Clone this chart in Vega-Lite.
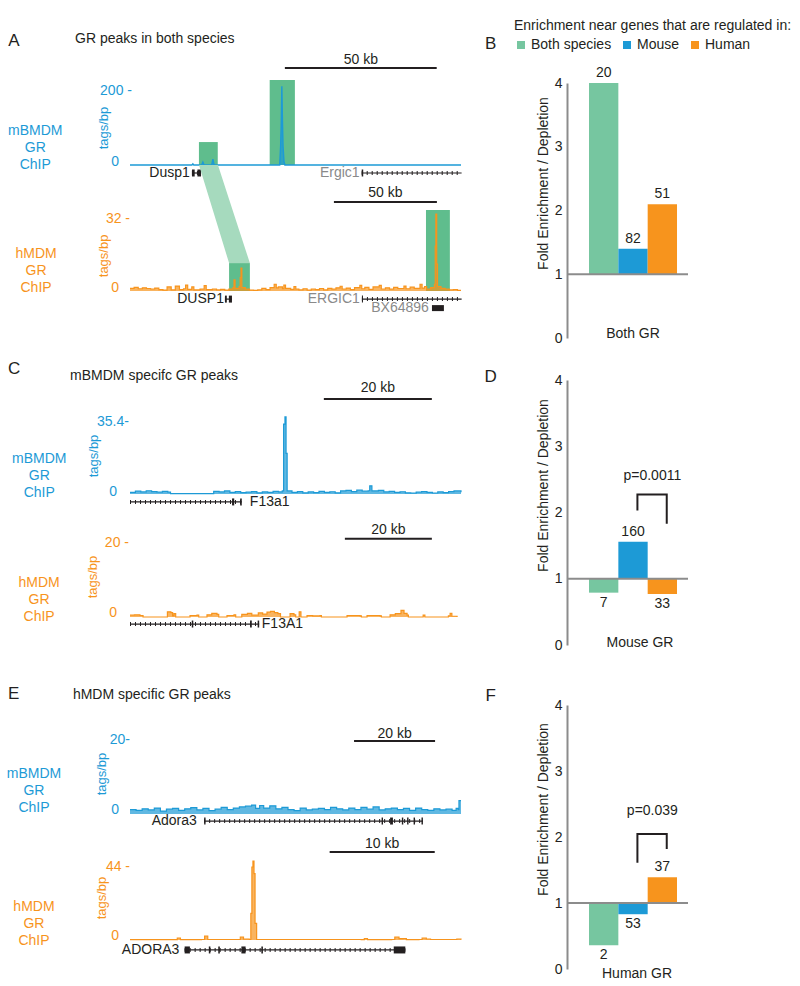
{
  "$schema": "https://vega.github.io/schema/vega-lite/v6.json",
  "padding": {"left": 6, "top": 19, "right": 0, "bottom": 0},
  "autosize": {"type": "pad"},
  "bounds": "flush",
  "spacing": 437,
  "config": {
    "font": "Liberation Sans",
    "view": {"stroke": null},
    "text": {"color": "#231f20", "fontSize": 14, "font": "Liberation Sans"}
  },
  "datasets": {
    "boxAM": [{"kb": 22.7, "kb2": 28.9, "top": 62}, {"kb": 46.0, "kb2": 54.3, "top": 230}],
    "boxAH": [{"kb": 48.1, "kb2": 58.2, "top": 12.4}, {"kb": 143.7, "kb2": 155.3, "top": 36}],
    "link": [{"kb": 33.5, "hi": 56, "lo": 56}, {"kb": 42.7, "hi": 56, "lo": 28.5}, {"kb": 48.1, "hi": 40.8, "lo": 12.4}, {"kb": 58.2, "hi": 12.4, "lo": 12.4}],
    "aM": [
      {"kb": 0, "v": 0}, {"kb": 20.4, "v": 0}, {"kb": 20.7, "v": 3}, {"kb": 21.0, "v": 0},
      {"kb": 23.6, "v": 0}, {"kb": 24.0, "v": 8}, {"kb": 24.4, "v": 0},
      {"kb": 26.9, "v": 0}, {"kb": 27.3, "v": 16}, {"kb": 27.7, "v": 0},
      {"kb": 49.3, "v": 0}, {"kb": 49.6, "v": 51}, {"kb": 49.8, "v": 110}, {"kb": 50.0, "v": 213},
      {"kb": 50.2, "v": 120}, {"kb": 50.4, "v": 51}, {"kb": 50.7, "v": 10}, {"kb": 51.0, "v": 0},
      {"kb": 109, "v": 0}
    ],
    "aH": [
      {"kb": 0, "v": 1.2}, {"kb": 2, "v": 1.6}, {"kb": 4, "v": 1.0}, {"kb": 6, "v": 1.4}, {"kb": 8, "v": 1.1},
      {"kb": 10, "v": 0.9}, {"kb": 12, "v": 1.3}, {"kb": 14, "v": 0.6}, {"kb": 16, "v": 0.4}, {"kb": 18, "v": 1.8},
      {"kb": 20, "v": 0.5}, {"kb": 22, "v": 2.2}, {"kb": 24, "v": 0.6}, {"kb": 26, "v": 1.0}, {"kb": 27, "v": 2.6},
      {"kb": 28, "v": 0.7}, {"kb": 30, "v": 1.8}, {"kb": 31, "v": 0.5}, {"kb": 34, "v": 0.8}, {"kb": 36, "v": 2.4},
      {"kb": 37, "v": 0.6}, {"kb": 40, "v": 0.9}, {"kb": 42, "v": 0.5}, {"kb": 44, "v": 0.7}, {"kb": 46, "v": 0.4},
      {"kb": 48, "v": 0.9}, {"kb": 50, "v": 1.5}, {"kb": 50.5, "v": 4.9}, {"kb": 51, "v": 1.2}, {"kb": 53, "v": 2.0},
      {"kb": 53.5, "v": 6.0}, {"kb": 53.9, "v": 10.2}, {"kb": 54.3, "v": 1.5}, {"kb": 56, "v": 0.8}, {"kb": 58, "v": 0.4},
      {"kb": 60, "v": 0.3}, {"kb": 62, "v": 0.5}, {"kb": 64, "v": 1.2}, {"kb": 66, "v": 0.6}, {"kb": 68, "v": 1.5},
      {"kb": 70, "v": 3.0}, {"kb": 71, "v": 1.4}, {"kb": 72, "v": 1.8}, {"kb": 74, "v": 1.0}, {"kb": 74.7, "v": 2.6},
      {"kb": 75.5, "v": 1.2}, {"kb": 78, "v": 0.7}, {"kb": 79.6, "v": 2.0}, {"kb": 80.5, "v": 0.8}, {"kb": 82, "v": 0.5},
      {"kb": 84, "v": 1.0}, {"kb": 86, "v": 0.4}, {"kb": 88, "v": 0.9}, {"kb": 90, "v": 0.6}, {"kb": 92, "v": 1.1},
      {"kb": 94, "v": 0.5}, {"kb": 96, "v": 1.2}, {"kb": 98, "v": 0.8}, {"kb": 100, "v": 1.4}, {"kb": 102, "v": 2.1},
      {"kb": 103, "v": 0.9}, {"kb": 105, "v": 1.3}, {"kb": 107, "v": 0.6}, {"kb": 109, "v": 1.5}, {"kb": 111.6, "v": 2.5},
      {"kb": 112.5, "v": 1.0}, {"kb": 114, "v": 1.6}, {"kb": 116, "v": 0.7}, {"kb": 118, "v": 1.8}, {"kb": 121, "v": 2.5},
      {"kb": 122, "v": 0.9}, {"kb": 124, "v": 1.4}, {"kb": 126, "v": 0.8}, {"kb": 128, "v": 1.6}, {"kb": 130, "v": 1.1},
      {"kb": 133, "v": 2.2}, {"kb": 134, "v": 1.0}, {"kb": 136, "v": 1.7}, {"kb": 138, "v": 1.2}, {"kb": 140.8, "v": 3.0},
      {"kb": 141.8, "v": 1.3}, {"kb": 143, "v": 2.0}, {"kb": 144, "v": 0.8}, {"kb": 146, "v": 1.5}, {"kb": 147.8, "v": 3.0},
      {"kb": 148.2, "v": 20}, {"kb": 148.5, "v": 34.2}, {"kb": 148.9, "v": 12}, {"kb": 149.3, "v": 2.0}, {"kb": 151, "v": 1.2},
      {"kb": 153, "v": 0.8}, {"kb": 155, "v": 0.5}, {"kb": 157, "v": 0.6}, {"kb": 159, "v": 0.3}, {"kb": 160.7, "v": 0.3}
    ],
    "cM": [
      {"kb": 0, "v": 0.8}, {"kb": 1, "v": 1.4}, {"kb": 2, "v": 1.0}, {"kb": 3, "v": 1.6}, {"kb": 4, "v": 1.2},
      {"kb": 5, "v": 0.9}, {"kb": 6, "v": 1.3}, {"kb": 7, "v": 0.9}, {"kb": 7.5, "v": 0.2}, {"kb": 15, "v": 0.2},
      {"kb": 15.5, "v": 1.3}, {"kb": 16.5, "v": 1.0}, {"kb": 17.5, "v": 1.5}, {"kb": 18.5, "v": 0.8}, {"kb": 19.5, "v": 1.2},
      {"kb": 20.5, "v": 0.7}, {"kb": 21.5, "v": 0.9}, {"kb": 22.5, "v": 1.2}, {"kb": 23.5, "v": 0.6}, {"kb": 24.5, "v": 1.0},
      {"kb": 25.5, "v": 0.8}, {"kb": 26.5, "v": 1.3}, {"kb": 27.5, "v": 1.0}, {"kb": 28.2, "v": 1.5}, {"kb": 28.45, "v": 34.4},
      {"kb": 28.7, "v": 37.9}, {"kb": 28.9, "v": 20}, {"kb": 29.1, "v": 1.5}, {"kb": 30, "v": 0.8}, {"kb": 31, "v": 1.2},
      {"kb": 32, "v": 0.6}, {"kb": 33, "v": 1.0}, {"kb": 34, "v": 0.7}, {"kb": 35, "v": 1.3}, {"kb": 36, "v": 0.8},
      {"kb": 37, "v": 1.1}, {"kb": 38, "v": 0.6}, {"kb": 39, "v": 1.5}, {"kb": 40, "v": 1.8}, {"kb": 41, "v": 1.2},
      {"kb": 42, "v": 1.9}, {"kb": 43, "v": 1.4}, {"kb": 44.1, "v": 1.6}, {"kb": 44.4, "v": 4.0}, {"kb": 44.8, "v": 1.5},
      {"kb": 46, "v": 1.8}, {"kb": 47, "v": 1.0}, {"kb": 48, "v": 1.3}, {"kb": 49, "v": 0.8}, {"kb": 50, "v": 1.1},
      {"kb": 51, "v": 0.6}, {"kb": 52, "v": 0.4}, {"kb": 53, "v": 0.9}, {"kb": 54, "v": 1.2}, {"kb": 55, "v": 0.8},
      {"kb": 56, "v": 0.5}, {"kb": 57, "v": 1.0}, {"kb": 58, "v": 0.7}, {"kb": 59, "v": 1.2}, {"kb": 60, "v": 1.5},
      {"kb": 61.3, "v": 0.8}
    ],
    "cH": [
      {"kb": 0, "v": 0.5}, {"kb": 1, "v": 0.6}, {"kb": 2.3, "v": 0.4}, {"kb": 3, "v": 0}, {"kb": 8.3, "v": 0},
      {"kb": 8.6, "v": 1.4}, {"kb": 9.4, "v": 1.2}, {"kb": 9.8, "v": 0.3}, {"kb": 10.1, "v": 0.9}, {"kb": 10.5, "v": 0},
      {"kb": 13.8, "v": 0.4}, {"kb": 15.4, "v": 0.5}, {"kb": 15.8, "v": 0}, {"kb": 17.7, "v": 0.6}, {"kb": 18.8, "v": 1.0},
      {"kb": 20, "v": 0.7}, {"kb": 20.4, "v": 0}, {"kb": 22.3, "v": 0.4}, {"kb": 23.9, "v": 0.6}, {"kb": 24.3, "v": 0},
      {"kb": 25.7, "v": 0.7}, {"kb": 27, "v": 1.0}, {"kb": 28, "v": 0.5}, {"kb": 29.5, "v": 1.1}, {"kb": 30.5, "v": 0.8},
      {"kb": 31.5, "v": 1.3}, {"kb": 32.3, "v": 1.5}, {"kb": 33.2, "v": 1.2}, {"kb": 34, "v": 0.9}, {"kb": 34.6, "v": 0},
      {"kb": 36.8, "v": 0.9}, {"kb": 37.7, "v": 0.6}, {"kb": 38.1, "v": 0}, {"kb": 38.9, "v": 1.4}, {"kb": 39.3, "v": 0},
      {"kb": 40.7, "v": 0.4}, {"kb": 42, "v": 0.3}, {"kb": 43.7, "v": 0.4}, {"kb": 44, "v": 0}, {"kb": 49.9, "v": 0.4},
      {"kb": 52.9, "v": 0.3}, {"kb": 53.2, "v": 0}, {"kb": 54.5, "v": 0.4}, {"kb": 57.5, "v": 0.3}, {"kb": 57.8, "v": 0},
      {"kb": 59.8, "v": 0.6}, {"kb": 61, "v": 0.9}, {"kb": 62.3, "v": 1.8}, {"kb": 63, "v": 1.0}, {"kb": 63.7, "v": 0.5},
      {"kb": 64, "v": 0}, {"kb": 67.4, "v": 0.5}, {"kb": 67.8, "v": 0}, {"kb": 73.2, "v": 0.3}, {"kb": 73.6, "v": 1.0},
      {"kb": 74, "v": 0.2}, {"kb": 75.2, "v": 0}
    ],
    "eM": [
      {"kb": 0, "v": 1.2}, {"kb": 1.5, "v": 1.0}, {"kb": 3, "v": 1.4}, {"kb": 4.5, "v": 1.1}, {"kb": 6, "v": 1.6},
      {"kb": 7.5, "v": 0.8}, {"kb": 9, "v": 1.3}, {"kb": 10.5, "v": 1.5}, {"kb": 12, "v": 1.0}, {"kb": 13.5, "v": 1.4},
      {"kb": 15, "v": 1.7}, {"kb": 16.5, "v": 1.1}, {"kb": 18, "v": 1.5}, {"kb": 19.5, "v": 0.9}, {"kb": 21, "v": 1.3},
      {"kb": 22.5, "v": 1.8}, {"kb": 24, "v": 1.2}, {"kb": 25.5, "v": 1.6}, {"kb": 27, "v": 1.9}, {"kb": 28.5, "v": 2.1},
      {"kb": 30, "v": 2.4}, {"kb": 31, "v": 1.5}, {"kb": 32, "v": 2.3}, {"kb": 33, "v": 1.6}, {"kb": 34.5, "v": 2.2},
      {"kb": 36, "v": 1.4}, {"kb": 37.5, "v": 1.8}, {"kb": 39, "v": 1.2}, {"kb": 40.5, "v": 0.9}, {"kb": 42, "v": 1.6},
      {"kb": 43.5, "v": 1.1}, {"kb": 45, "v": 1.3}, {"kb": 46.5, "v": 1.5}, {"kb": 48, "v": 1.2}, {"kb": 49.5, "v": 1.8},
      {"kb": 51, "v": 1.4}, {"kb": 52.5, "v": 1.1}, {"kb": 54, "v": 1.6}, {"kb": 55.5, "v": 1.2}, {"kb": 57, "v": 1.8},
      {"kb": 58.5, "v": 1.3}, {"kb": 60, "v": 1.9}, {"kb": 61.5, "v": 1.1}, {"kb": 63, "v": 1.4}, {"kb": 64.5, "v": 1.6},
      {"kb": 66, "v": 1.2}, {"kb": 67.5, "v": 1.5}, {"kb": 69, "v": 1.0}, {"kb": 70.5, "v": 1.6}, {"kb": 72, "v": 1.2},
      {"kb": 73.5, "v": 1.0}, {"kb": 75, "v": 1.4}, {"kb": 76.5, "v": 1.1}, {"kb": 78, "v": 1.3}, {"kb": 79.5, "v": 1.0},
      {"kb": 80.5, "v": 1.5}, {"kb": 81.0, "v": 1.2}, {"kb": 81.2, "v": 3.6}, {"kb": 81.7, "v": 3.6}
    ],
    "eH": [
      {"kb": 0, "v": 0.2}, {"kb": 4.2, "v": 0.2}, {"kb": 4.5, "v": 1.2}, {"kb": 4.8, "v": 0.2}, {"kb": 6.8, "v": 0.3},
      {"kb": 7.1, "v": 2.4}, {"kb": 7.4, "v": 0.3}, {"kb": 10.2, "v": 0.3}, {"kb": 10.5, "v": 1.8}, {"kb": 10.8, "v": 0.5},
      {"kb": 11.35, "v": 0.3}, {"kb": 11.5, "v": 16}, {"kb": 11.6, "v": 44}, {"kb": 11.7, "v": 47.6}, {"kb": 11.8, "v": 40},
      {"kb": 11.9, "v": 10}, {"kb": 12.05, "v": 0.3}, {"kb": 22.0, "v": 0.2}, {"kb": 22.3, "v": 0.9}, {"kb": 22.6, "v": 0.2},
      {"kb": 24.9, "v": 0.3}, {"kb": 25.2, "v": 1.8}, {"kb": 25.6, "v": 0.8}, {"kb": 26.0, "v": 0.9}, {"kb": 26.3, "v": 0.2},
      {"kb": 27.5, "v": 0.3}, {"kb": 27.8, "v": 1.2}, {"kb": 28.2, "v": 0.6}, {"kb": 28.6, "v": 0.3}, {"kb": 30.7, "v": 0.3},
      {"kb": 31.1, "v": 0.6}, {"kb": 31.5, "v": 0.2}
    ],
    "gAM": [
      {"kb": 20.4, "kb2": 23.4, "part": "line"}, {"kb": 20.4, "kb2": 21.3, "part": "exon"}, {"kb": 22.2, "kb2": 23.4, "part": "exon"},
      {"kb": 76.3, "kb2": 109.2, "part": "line"}, {"kb": 76.3, "kb2": 76.8, "part": "exon"}
    ],
    "gAH": [
      {"kb": 46.1, "kb2": 49.5, "part": "line"}, {"kb": 46.1, "kb2": 47.0, "part": "exon"}, {"kb": 48.0, "kb2": 49.5, "part": "exon"},
      {"kb": 112.6, "kb2": 161.0, "part": "line"}, {"kb": 112.6, "kb2": 113.1, "part": "exon"}
    ],
    "gCM": [
      {"kb": 0, "kb2": 20.7, "part": "line"}, {"kb": 18.9, "kb2": 19.3, "part": "exon"}, {"kb": 20.4, "kb2": 20.7, "part": "exon"}
    ],
    "gCH": [
      {"kb": 0, "kb2": 29.7, "part": "line"}, {"kb": 14.2, "kb2": 14.55, "part": "exon"}, {"kb": 27.6, "kb2": 28.0, "part": "exon"},
      {"kb": 29.35, "kb2": 29.7, "part": "exon"}
    ],
    "gEM": [
      {"kb": 18.3, "kb2": 72.3, "part": "line"}, {"kb": 18.3, "kb2": 18.65, "part": "exon"}, {"kb": 62.1, "kb2": 62.45, "part": "exon"},
      {"kb": 64.2, "kb2": 64.9, "part": "exon"}, {"kb": 67.1, "kb2": 67.45, "part": "exon"}, {"kb": 68.4, "kb2": 68.75, "part": "exon"},
      {"kb": 70.0, "kb2": 70.35, "part": "exon"}, {"kb": 71.95, "kb2": 72.3, "part": "exon"}
    ],
    "gEH": [
      {"kb": 5.2, "kb2": 26.2, "part": "line"}, {"kb": 5.2, "kb2": 5.7, "part": "exon"}, {"kb": 7.5, "kb2": 7.65, "part": "exon"},
      {"kb": 8.4, "kb2": 8.55, "part": "exon"}, {"kb": 10.6, "kb2": 11.0, "part": "exon"}, {"kb": 12.5, "kb2": 12.65, "part": "exon"},
      {"kb": 25.1, "kb2": 26.2, "part": "exon"}
    ],
    "barsB": [{"g": "Both species", "v": 4.0, "n": "20"}, {"g": "Mouse", "v": 1.4, "n": "82"}, {"g": "Human", "v": 2.1, "n": "51"}],
    "barsD": [{"g": "Both species", "v": 0.79, "n": "7"}, {"g": "Mouse", "v": 1.56, "n": "160"}, {"g": "Human", "v": 0.77, "n": "33"}],
    "barsF": [{"g": "Both species", "v": 0.36, "n": "2"}, {"g": "Mouse", "v": 0.83, "n": "53"}, {"g": "Human", "v": 1.39, "n": "37"}],
    "brD": [{"g": "Mouse", "v": 2.03, "o": 1}, {"g": "Mouse", "v": 2.27, "o": 2}, {"g": "Human", "v": 2.27, "o": 3}, {"g": "Human", "v": 1.83, "o": 4}],
    "brF": [{"g": "Mouse", "v": 1.61, "o": 1}, {"g": "Mouse", "v": 2.045, "o": 2}, {"g": "Human", "v": 2.045, "o": 3}, {"g": "Human", "v": 1.82, "o": 4}]
  },
  "hconcat": [
    {
      "vconcat": [
        {
          "width": 331, "height": 82,
          "resolve": {"axis": {"x": "independent", "y": "independent"}},
          "layer": [
            {"data": {"name": "boxAM"}, "mark": {"type": "rect", "color": "#5fbd8d"},
             "encoding": {"x": {"field": "kb", "type": "quantitative", "axis": null}, "x2": {"field": "kb2"}, "y": {"field": "top", "type": "quantitative", "axis": null}, "y2": {"datum": 0}}},
            {"data": {"name": "aM"}, "mark": {"type": "area", "color": "#1d9ad6", "line": {"color": "#1d9ad6", "strokeWidth": 1.4}},
             "encoding": {
               "x": {"field": "kb", "type": "quantitative", "scale": {"domain": [0, 109], "nice": false, "zero": false}, "axis": null},
               "y": {"field": "v", "type": "quantitative", "scale": {"domain": [0, 221.6], "nice": false}, "axis": null}}},
            {"data": {"values": [{}]}, "mark": {"type": "text", "text": "200 -", "align": "right", "baseline": "middle", "color": "#1d9ad6"},
             "encoding": {"x": {"datum": 0.66, "axis": null}, "y": {"datum": 200, "axis": null}}},
            {"data": {"values": [{}]}, "mark": {"type": "text", "text": "0", "align": "right", "baseline": "middle", "dy": -3, "color": "#1d9ad6"},
             "encoding": {"x": {"datum": -3.6, "axis": null}, "y": {"datum": 0, "axis": null}}},
            {"data": {"values": [{"kb": 51.0, "kb2": 101.0}]}, "mark": {"type": "rule", "color": "#231f20", "strokeWidth": 2},
             "encoding": {"x": {"field": "kb", "type": "quantitative", "axis": null}, "x2": {"field": "kb2"}, "y": {"datum": 262, "axis": null}}},
            {"data": {"values": [{"kb": 76.0, "t": "50 kb"}]}, "mark": {"type": "text", "baseline": "middle"},
             "encoding": {"x": {"field": "kb", "type": "quantitative", "axis": null}, "y": {"datum": 283.8, "axis": null}, "text": {"field": "t", "type": "nominal"}}},
            {"data": {"name": "gAM"}, "transform": [{"filter": "datum.part == 'line'"}], "mark": {"type": "rule", "color": "#231f20", "strokeWidth": 1.2},
             "encoding": {"x": {"field": "kb", "type": "quantitative", "axis": null}, "x2": {"field": "kb2"}, "y": {"datum": -21.6, "axis": null}}},
            {"data": {"name": "gAM"}, "transform": [{"filter": "datum.part == 'line'"}], "mark": {"type": "rule", "color": "#231f20", "strokeWidth": 4, "strokeDash": [1, 4]},
             "encoding": {"x": {"field": "kb", "type": "quantitative", "axis": null}, "x2": {"field": "kb2"}, "y": {"datum": -21.6, "axis": null}}},
            {"data": {"name": "gAM"}, "transform": [{"filter": "datum.part == 'exon'"}], "mark": {"type": "rule", "color": "#231f20", "strokeWidth": 7},
             "encoding": {"x": {"field": "kb", "type": "quantitative", "axis": null}, "x2": {"field": "kb2"}, "y": {"datum": -21.6, "axis": null}}},
            {"data": {"values": [{"kb": 19.7, "gene": "Dusp1"}]}, "mark": {"type": "text", "align": "right", "baseline": "middle", "color": "#231f20"},
             "encoding": {"x": {"field": "kb", "type": "quantitative", "axis": null}, "y": {"datum": -21.6, "axis": null}, "text": {"field": "gene", "type": "nominal"}}},
            {"data": {"values": [{"kb": 75.6, "gene": "Ergic1"}]}, "mark": {"type": "text", "align": "right", "baseline": "middle", "color": "#8a8a8a"},
             "encoding": {"x": {"field": "kb", "type": "quantitative", "axis": null}, "y": {"datum": -21.6, "axis": null}, "text": {"field": "gene", "type": "nominal"}}},
            {"data": {"values": [{}]}, "mark": {"type": "text", "text": ["mBMDM", "GR", "ChIP"], "align": "center", "baseline": "middle", "lineHeight": 17, "color": "#1d9ad6"},
             "encoding": {"x": {"datum": -31.2, "axis": null}, "y": {"datum": 91.9, "axis": null}}},
            {"data": {"values": [{}]}, "mark": {"type": "text", "text": "tags/bp", "angle": 270, "align": "center", "baseline": "middle", "fontSize": 13, "color": "#1d9ad6"},
             "encoding": {"x": {"datum": -8.55, "axis": null}, "y": {"datum": 100, "axis": null}}},
            {"data": {"values": [{}]}, "mark": {"type": "text", "text": "A", "align": "left", "baseline": "middle", "fontSize": 17},
             "encoding": {"x": {"datum": -40.1, "axis": null}, "y": {"datum": 335.1, "axis": null}}},
            {"data": {"values": [{}]}, "mark": {"type": "text", "text": "GR peaks in both species", "align": "left", "baseline": "middle"},
             "encoding": {"x": {"datum": -18.1, "axis": null}, "y": {"datum": 340.5, "axis": null}}}
          ]
        },
        {
          "width": 331, "height": 106,
          "resolve": {"axis": {"x": "independent", "y": "independent"}},
          "layer": [
            {"data": {"name": "link"}, "mark": {"type": "area", "color": "#a6dabe"},
             "encoding": {"x": {"field": "kb", "type": "quantitative", "axis": null}, "y": {"field": "hi", "type": "quantitative", "axis": null}, "y2": {"field": "lo"}}},
            {"data": {"name": "boxAH"}, "mark": {"type": "rect", "color": "#5fbd8d"},
             "encoding": {"x": {"field": "kb", "type": "quantitative", "axis": null}, "x2": {"field": "kb2"}, "y": {"field": "top", "type": "quantitative", "axis": null}, "y2": {"datum": 0}}},
            {"data": {"name": "aH"}, "mark": {"type": "area", "interpolate": "step-after", "color": "#f7941d", "line": {"color": "#f7941d", "strokeWidth": 1.2}},
             "encoding": {
               "x": {"field": "kb", "type": "quantitative", "scale": {"domain": [0, 160.7], "nice": false, "zero": false}, "axis": null},
               "y": {"field": "v", "type": "quantitative", "scale": {"domain": [0, 47.1], "nice": false}, "axis": null}}},
            {"data": {"values": [{}]}, "mark": {"type": "text", "text": "32 -", "align": "right", "baseline": "middle", "color": "#f7941d"},
             "encoding": {"x": {"datum": 0, "axis": null}, "y": {"datum": 32, "axis": null}}},
            {"data": {"values": [{}]}, "mark": {"type": "text", "text": "0", "align": "right", "baseline": "middle", "dy": -3, "color": "#f7941d"},
             "encoding": {"x": {"datum": -5.3, "axis": null}, "y": {"datum": 0, "axis": null}}},
            {"data": {"values": [{"kb": 99.0, "kb2": 149.0}]}, "mark": {"type": "rule", "color": "#231f20", "strokeWidth": 2},
             "encoding": {"x": {"field": "kb", "type": "quantitative", "axis": null}, "x2": {"field": "kb2"}, "y": {"datum": 39.6, "axis": null}}},
            {"data": {"values": [{"kb": 124.0, "t": "50 kb"}]}, "mark": {"type": "text", "baseline": "middle"},
             "encoding": {"x": {"field": "kb", "type": "quantitative", "axis": null}, "y": {"datum": 43.6, "axis": null}, "text": {"field": "t", "type": "nominal"}}},
            {"data": {"name": "gAH"}, "transform": [{"filter": "datum.part == 'line'"}], "mark": {"type": "rule", "color": "#231f20", "strokeWidth": 1.2},
             "encoding": {"x": {"field": "kb", "type": "quantitative", "axis": null}, "x2": {"field": "kb2"}, "y": {"datum": -3.6, "axis": null}}},
            {"data": {"name": "gAH"}, "transform": [{"filter": "datum.part == 'line'"}], "mark": {"type": "rule", "color": "#231f20", "strokeWidth": 4, "strokeDash": [1, 4]},
             "encoding": {"x": {"field": "kb", "type": "quantitative", "axis": null}, "x2": {"field": "kb2"}, "y": {"datum": -3.6, "axis": null}}},
            {"data": {"name": "gAH"}, "transform": [{"filter": "datum.part == 'exon'"}], "mark": {"type": "rule", "color": "#231f20", "strokeWidth": 7},
             "encoding": {"x": {"field": "kb", "type": "quantitative", "axis": null}, "x2": {"field": "kb2"}, "y": {"datum": -3.6, "axis": null}}},
            {"data": {"values": [{"kb": 146.6, "kb2": 152.4}]}, "mark": {"type": "rule", "color": "#231f20", "strokeWidth": 6},
             "encoding": {"x": {"field": "kb", "type": "quantitative", "axis": null}, "x2": {"field": "kb2"}, "y": {"datum": -7.6, "axis": null}}},
            {"data": {"values": [{"kb": 45.6, "gene": "DUSP1"}]}, "mark": {"type": "text", "align": "right", "baseline": "middle", "color": "#231f20"},
             "encoding": {"x": {"field": "kb", "type": "quantitative", "axis": null}, "y": {"datum": -3.6, "axis": null}, "text": {"field": "gene", "type": "nominal"}}},
            {"data": {"values": [{"kb": 111.6, "gene": "ERGIC1"}]}, "mark": {"type": "text", "align": "right", "baseline": "middle", "color": "#8a8a8a"},
             "encoding": {"x": {"field": "kb", "type": "quantitative", "axis": null}, "y": {"datum": -3.6, "axis": null}, "text": {"field": "gene", "type": "nominal"}}},
            {"data": {"values": [{"kb": 145.1, "gene": "BX64896"}]}, "mark": {"type": "text", "align": "right", "baseline": "middle", "color": "#8a8a8a"},
             "encoding": {"x": {"field": "kb", "type": "quantitative", "axis": null}, "y": {"datum": -7.6, "axis": null}, "text": {"field": "gene", "type": "nominal"}}},
            {"data": {"values": [{}]}, "mark": {"type": "text", "text": ["hMDM", "GR", "ChIP"], "align": "center", "baseline": "middle", "lineHeight": 17, "color": "#f7941d"},
             "encoding": {"x": {"datum": -45.6, "axis": null}, "y": {"datum": 16.4, "axis": null}}},
            {"data": {"values": [{}]}, "mark": {"type": "text", "text": "tags/bp", "angle": 270, "align": "center", "baseline": "middle", "fontSize": 13, "color": "#f7941d"},
             "encoding": {"x": {"datum": -12.6, "axis": null}, "y": {"datum": 15.6, "axis": null}}}
          ]
        },
        {
          "width": 331, "height": 183,
          "resolve": {"axis": {"x": "independent", "y": "independent"}},
          "layer": [
            {"data": {"name": "cM"}, "mark": {"type": "area", "interpolate": "step-after", "color": "#1d9ad6", "line": {"color": "#1d9ad6", "strokeWidth": 1.2}},
             "encoding": {
               "x": {"field": "kb", "type": "quantitative", "scale": {"domain": [0, 61.3], "nice": false, "zero": false}, "axis": null},
               "y": {"field": "v", "type": "quantitative", "scale": {"domain": [0, 90], "nice": false}, "axis": null}}},
            {"data": {"values": [{}]}, "mark": {"type": "text", "text": "35.4-", "align": "right", "baseline": "middle", "color": "#1d9ad6"},
             "encoding": {"x": {"datum": -0.19, "axis": null}, "y": {"datum": 35.4, "axis": null}}},
            {"data": {"values": [{}]}, "mark": {"type": "text", "text": "0", "align": "right", "baseline": "middle", "dy": -2, "color": "#1d9ad6"},
             "encoding": {"x": {"datum": -2.4, "axis": null}, "y": {"datum": 0, "axis": null}}},
            {"data": {"values": [{"kb": 35.9, "kb2": 55.9}]}, "mark": {"type": "rule", "color": "#231f20", "strokeWidth": 2},
             "encoding": {"x": {"field": "kb", "type": "quantitative", "axis": null}, "x2": {"field": "kb2"}, "y": {"datum": 46.7, "axis": null}}},
            {"data": {"values": [{"kb": 45.9, "t": "20 kb"}]}, "mark": {"type": "text", "baseline": "middle"},
             "encoding": {"x": {"field": "kb", "type": "quantitative", "axis": null}, "y": {"datum": 52.1, "axis": null}, "text": {"field": "t", "type": "nominal"}}},
            {"data": {"name": "gCM"}, "transform": [{"filter": "datum.part == 'line'"}], "mark": {"type": "rule", "color": "#231f20", "strokeWidth": 1.2},
             "encoding": {"x": {"field": "kb", "type": "quantitative", "axis": null}, "x2": {"field": "kb2"}, "y": {"datum": -3.9, "axis": null}}},
            {"data": {"name": "gCM"}, "transform": [{"filter": "datum.part == 'line'"}], "mark": {"type": "rule", "color": "#231f20", "strokeWidth": 4, "strokeDash": [1, 4]},
             "encoding": {"x": {"field": "kb", "type": "quantitative", "axis": null}, "x2": {"field": "kb2"}, "y": {"datum": -3.9, "axis": null}}},
            {"data": {"name": "gCM"}, "transform": [{"filter": "datum.part == 'exon'"}], "mark": {"type": "rule", "color": "#231f20", "strokeWidth": 7},
             "encoding": {"x": {"field": "kb", "type": "quantitative", "axis": null}, "x2": {"field": "kb2"}, "y": {"datum": -3.9, "axis": null}}},
            {"data": {"values": [{"kb": 22.2, "gene": "F13a1"}]}, "mark": {"type": "text", "align": "left", "baseline": "middle", "color": "#231f20"},
             "encoding": {"x": {"field": "kb", "type": "quantitative", "axis": null}, "y": {"datum": -3.9, "axis": null}, "text": {"field": "gene", "type": "nominal"}}},
            {"data": {"values": [{}]}, "mark": {"type": "text", "text": ["mBMDM", "GR", "ChIP"], "align": "center", "baseline": "middle", "lineHeight": 17, "color": "#1d9ad6"},
             "encoding": {"x": {"datum": -16.8, "axis": null}, "y": {"datum": 17.2, "axis": null}}},
            {"data": {"values": [{}]}, "mark": {"type": "text", "text": "tags/bp", "angle": 270, "align": "center", "baseline": "middle", "fontSize": 13, "color": "#1d9ad6"},
             "encoding": {"x": {"datum": -6.7, "axis": null}, "y": {"datum": 18.7, "axis": null}}},
            {"data": {"values": [{}]}, "mark": {"type": "text", "text": "C", "align": "left", "baseline": "middle", "fontSize": 17},
             "encoding": {"x": {"datum": -22.6, "axis": null}, "y": {"datum": 61.5, "axis": null}}},
            {"data": {"values": [{}]}, "mark": {"type": "text", "text": "mBMDM specifc GR peaks", "align": "left", "baseline": "middle"},
             "encoding": {"x": {"datum": -11.1, "axis": null}, "y": {"datum": 58.0, "axis": null}}}
          ]
        },
        {
          "width": 331, "height": 103,
          "resolve": {"axis": {"x": "independent", "y": "independent"}},
          "layer": [
            {"data": {"name": "cH"}, "mark": {"type": "area", "interpolate": "step-after", "color": "#f7941d", "line": {"color": "#f7941d", "strokeWidth": 1.2}},
             "encoding": {
               "x": {"field": "kb", "type": "quantitative", "scale": {"domain": [0, 76.1], "nice": false, "zero": false}, "axis": null},
               "y": {"field": "v", "type": "quantitative", "scale": {"domain": [0, 27.8], "nice": false}, "axis": null}}},
            {"data": {"values": [{}]}, "mark": {"type": "text", "text": "20 -", "align": "right", "baseline": "middle", "color": "#f7941d"},
             "encoding": {"x": {"datum": -0.23, "axis": null}, "y": {"datum": 20, "axis": null}}},
            {"data": {"values": [{}]}, "mark": {"type": "text", "text": "0", "align": "right", "baseline": "middle", "dy": -4, "color": "#f7941d"},
             "encoding": {"x": {"datum": -3.0, "axis": null}, "y": {"datum": 0, "axis": null}}},
            {"data": {"values": [{"kb": 49.4, "kb2": 69.4}]}, "mark": {"type": "rule", "color": "#231f20", "strokeWidth": 2},
             "encoding": {"x": {"field": "kb", "type": "quantitative", "axis": null}, "x2": {"field": "kb2"}, "y": {"datum": 21.1, "axis": null}}},
            {"data": {"values": [{"kb": 59.4, "t": "20 kb"}]}, "mark": {"type": "text", "baseline": "middle"},
             "encoding": {"x": {"field": "kb", "type": "quantitative", "axis": null}, "y": {"datum": 23.5, "axis": null}, "text": {"field": "t", "type": "nominal"}}},
            {"data": {"name": "gCH"}, "transform": [{"filter": "datum.part == 'line'"}], "mark": {"type": "rule", "color": "#231f20", "strokeWidth": 1.2},
             "encoding": {"x": {"field": "kb", "type": "quantitative", "axis": null}, "x2": {"field": "kb2"}, "y": {"datum": -1.9, "axis": null}}},
            {"data": {"name": "gCH"}, "transform": [{"filter": "datum.part == 'line'"}], "mark": {"type": "rule", "color": "#231f20", "strokeWidth": 4, "strokeDash": [1, 4]},
             "encoding": {"x": {"field": "kb", "type": "quantitative", "axis": null}, "x2": {"field": "kb2"}, "y": {"datum": -1.9, "axis": null}}},
            {"data": {"name": "gCH"}, "transform": [{"filter": "datum.part == 'exon'"}], "mark": {"type": "rule", "color": "#231f20", "strokeWidth": 7},
             "encoding": {"x": {"field": "kb", "type": "quantitative", "axis": null}, "x2": {"field": "kb2"}, "y": {"datum": -1.9, "axis": null}}},
            {"data": {"values": [{"kb": 30.3, "gene": "F13A1"}]}, "mark": {"type": "text", "align": "left", "baseline": "middle", "color": "#231f20"},
             "encoding": {"x": {"field": "kb", "type": "quantitative", "axis": null}, "y": {"datum": -1.9, "axis": null}, "text": {"field": "gene", "type": "nominal"}}},
            {"data": {"values": [{}]}, "mark": {"type": "text", "text": ["hMDM", "GR", "ChIP"], "align": "center", "baseline": "middle", "lineHeight": 17, "color": "#f7941d"},
             "encoding": {"x": {"datum": -20.9, "axis": null}, "y": {"datum": 9.2, "axis": null}}},
            {"data": {"values": [{}]}, "mark": {"type": "text", "text": "tags/bp", "angle": 270, "align": "center", "baseline": "middle", "fontSize": 13, "color": "#f7941d"},
             "encoding": {"x": {"datum": -8.5, "axis": null}, "y": {"datum": 10.8, "axis": null}}}
          ]
        },
        {
          "width": 331, "height": 177,
          "resolve": {"axis": {"x": "independent", "y": "independent"}},
          "layer": [
            {"data": {"name": "eM"}, "mark": {"type": "area", "interpolate": "step-after", "color": "#1d9ad6", "line": {"color": "#1d9ad6", "strokeWidth": 1.2}},
             "encoding": {
               "x": {"field": "kb", "type": "quantitative", "scale": {"domain": [0, 81.7], "nice": false, "zero": false}, "axis": null},
               "y": {"field": "v", "type": "quantitative", "scale": {"domain": [0, 47.8], "nice": false}, "axis": null}}},
            {"data": {"values": [{}]}, "mark": {"type": "text", "text": "20-", "align": "right", "baseline": "middle", "color": "#1d9ad6"},
             "encoding": {"x": {"datum": 0, "axis": null}, "y": {"datum": 20, "axis": null}}},
            {"data": {"values": [{}]}, "mark": {"type": "text", "text": "0", "align": "right", "baseline": "middle", "dy": -4, "color": "#1d9ad6"},
             "encoding": {"x": {"datum": -2.7, "axis": null}, "y": {"datum": 0, "axis": null}}},
            {"data": {"values": [{"kb": 55.3, "kb2": 75.3}]}, "mark": {"type": "rule", "color": "#231f20", "strokeWidth": 2},
             "encoding": {"x": {"field": "kb", "type": "quantitative", "axis": null}, "x2": {"field": "kb2"}, "y": {"datum": 19.7, "axis": null}}},
            {"data": {"values": [{"kb": 65.3, "t": "20 kb"}]}, "mark": {"type": "text", "baseline": "middle"},
             "encoding": {"x": {"field": "kb", "type": "quantitative", "axis": null}, "y": {"datum": 21.6, "axis": null}, "text": {"field": "t", "type": "nominal"}}},
            {"data": {"name": "gEM"}, "transform": [{"filter": "datum.part == 'line'"}], "mark": {"type": "rule", "color": "#231f20", "strokeWidth": 1.2},
             "encoding": {"x": {"field": "kb", "type": "quantitative", "axis": null}, "x2": {"field": "kb2"}, "y": {"datum": -1.9, "axis": null}}},
            {"data": {"name": "gEM"}, "transform": [{"filter": "datum.part == 'line'"}], "mark": {"type": "rule", "color": "#231f20", "strokeWidth": 4, "strokeDash": [1, 4]},
             "encoding": {"x": {"field": "kb", "type": "quantitative", "axis": null}, "x2": {"field": "kb2"}, "y": {"datum": -1.9, "axis": null}}},
            {"data": {"name": "gEM"}, "transform": [{"filter": "datum.part == 'exon'"}], "mark": {"type": "rule", "color": "#231f20", "strokeWidth": 7},
             "encoding": {"x": {"field": "kb", "type": "quantitative", "axis": null}, "x2": {"field": "kb2"}, "y": {"datum": -1.9, "axis": null}}},
            {"data": {"values": [{"kb": 16.5, "gene": "Adora3"}]}, "mark": {"type": "text", "align": "right", "baseline": "middle", "color": "#231f20"},
             "encoding": {"x": {"field": "kb", "type": "quantitative", "axis": null}, "y": {"datum": -1.9, "axis": null}, "text": {"field": "gene", "type": "nominal"}}},
            {"data": {"values": [{}]}, "mark": {"type": "text", "text": ["mBMDM", "GR", "ChIP"], "align": "center", "baseline": "middle", "lineHeight": 17, "color": "#1d9ad6"},
             "encoding": {"x": {"datum": -23.7, "axis": null}, "y": {"datum": 10.8, "axis": null}}},
            {"data": {"values": [{}]}, "mark": {"type": "text", "text": "tags/bp", "angle": 270, "align": "center", "baseline": "middle", "fontSize": 13, "color": "#1d9ad6"},
             "encoding": {"x": {"datum": -6.9, "axis": null}, "y": {"datum": 10.8, "axis": null}}},
            {"data": {"values": [{}]}, "mark": {"type": "text", "text": "E", "align": "left", "baseline": "middle", "fontSize": 17},
             "encoding": {"x": {"datum": -30.1, "axis": null}, "y": {"datum": 32.4, "axis": null}}},
            {"data": {"values": [{}]}, "mark": {"type": "text", "text": "hMDM specific GR peaks", "align": "left", "baseline": "middle"},
             "encoding": {"x": {"datum": -14.1, "axis": null}, "y": {"datum": 32.2, "axis": null}}}
          ]
        },
        {
          "width": 331, "height": 106,
          "resolve": {"axis": {"x": "independent", "y": "independent"}},
          "layer": [
            {"data": {"name": "eH"}, "mark": {"type": "area", "interpolate": "step-after", "color": "#f7941d", "line": {"color": "#f7941d", "strokeWidth": 1.2}},
             "encoding": {
               "x": {"field": "kb", "type": "quantitative", "scale": {"domain": [0, 31.5], "nice": false, "zero": false}, "axis": null},
               "y": {"field": "v", "type": "quantitative", "scale": {"domain": [0, 63.9], "nice": false}, "axis": null}}},
            {"data": {"values": [{}]}, "mark": {"type": "text", "text": "44 -", "align": "right", "baseline": "middle", "color": "#f7941d"},
             "encoding": {"x": {"datum": 0, "axis": null}, "y": {"datum": 44, "axis": null}}},
            {"data": {"values": [{}]}, "mark": {"type": "text", "text": "0", "align": "right", "baseline": "middle", "dy": -4, "color": "#f7941d"},
             "encoding": {"x": {"datum": -1.05, "axis": null}, "y": {"datum": 0, "axis": null}}},
            {"data": {"values": [{"kb": 19.0, "kb2": 29.0}]}, "mark": {"type": "rule", "color": "#231f20", "strokeWidth": 2},
             "encoding": {"x": {"field": "kb", "type": "quantitative", "axis": null}, "x2": {"field": "kb2"}, "y": {"datum": 53.0, "axis": null}}},
            {"data": {"values": [{"kb": 24.0, "t": "10 kb"}]}, "mark": {"type": "text", "baseline": "middle"},
             "encoding": {"x": {"field": "kb", "type": "quantitative", "axis": null}, "y": {"datum": 57.9, "axis": null}, "text": {"field": "t", "type": "nominal"}}},
            {"data": {"name": "gEH"}, "transform": [{"filter": "datum.part == 'line'"}], "mark": {"type": "rule", "color": "#231f20", "strokeWidth": 1.2},
             "encoding": {"x": {"field": "kb", "type": "quantitative", "axis": null}, "x2": {"field": "kb2"}, "y": {"datum": -6.0, "axis": null}}},
            {"data": {"name": "gEH"}, "transform": [{"filter": "datum.part == 'line'"}], "mark": {"type": "rule", "color": "#231f20", "strokeWidth": 4, "strokeDash": [1, 4]},
             "encoding": {"x": {"field": "kb", "type": "quantitative", "axis": null}, "x2": {"field": "kb2"}, "y": {"datum": -6.0, "axis": null}}},
            {"data": {"name": "gEH"}, "transform": [{"filter": "datum.part == 'exon'"}], "mark": {"type": "rule", "color": "#231f20", "strokeWidth": 7},
             "encoding": {"x": {"field": "kb", "type": "quantitative", "axis": null}, "x2": {"field": "kb2"}, "y": {"datum": -6.0, "axis": null}}},
            {"data": {"values": [{"kb": 4.7, "gene": "ADORA3"}]}, "mark": {"type": "text", "align": "right", "baseline": "middle", "color": "#231f20"},
             "encoding": {"x": {"field": "kb", "type": "quantitative", "axis": null}, "y": {"datum": -6.0, "axis": null}, "text": {"field": "gene", "type": "nominal"}}},
            {"data": {"values": [{}]}, "mark": {"type": "text", "text": ["hMDM", "GR", "ChIP"], "align": "center", "baseline": "middle", "lineHeight": 17, "color": "#f7941d"},
             "encoding": {"x": {"datum": -9.14, "axis": null}, "y": {"datum": 19.9, "axis": null}}},
            {"data": {"values": [{}]}, "mark": {"type": "text", "text": "tags/bp", "angle": 270, "align": "center", "baseline": "middle", "fontSize": 13, "color": "#f7941d"},
             "encoding": {"x": {"datum": -2.67, "axis": null}, "y": {"datum": 25.3, "axis": null}}}
          ]
        }
      ],
      "spacing": 20,
      "bounds": "flush"
    },
    {
      "vconcat": [
        {
          "width": 121, "height": 255,
          "resolve": {"axis": {"x": "independent", "y": "independent"}},
          "layer": [
            {"data": {"name": "barsB"}, "mark": {"type": "bar"},
             "encoding": {
               "x": {"field": "g", "type": "nominal", "scale": {"domain": ["Both species", "Mouse", "Human"], "paddingInner": 0, "paddingOuter": 0.5625, "align": 0.667}, "axis": null},
               "y": {"field": "v", "type": "quantitative", "scale": {"domain": [0, 4], "nice": false},
                     "axis": {"values": [0, 1, 2, 3, 4], "title": "Fold Enrichment / Depletion", "titleFontSize": 14, "titleFontWeight": "normal", "titleColor": "#231f20", "titlePadding": 4, "titleY": 100, "labelFontSize": 14, "labelColor": "#231f20", "labelPadding": 5, "labelFlush": false, "ticks": false, "domainColor": "#8c8c8c", "domainWidth": 2, "grid": false}},
               "y2": {"datum": 1},
               "color": {"field": "g", "type": "nominal", "scale": {"domain": ["Both species", "Mouse", "Human"], "range": ["#76c6a0", "#1d9ad6", "#f7941d"]},
                         "legend": {"orient": "none", "direction": "horizontal", "legendX": 384, "legendY": -64, "title": "Enrichment near genes that are regulated in:", "titleLimit": 600, "titleFontSize": 14, "titleFontWeight": "normal", "titleColor": "#231f20", "labelFontSize": 14, "labelColor": "#231f20", "symbolType": "square", "symbolSize": 64, "symbolStrokeWidth": 0, "columnPadding": 8, "labelOffset": 3}}
             }},
            {"data": {"values": [{}]}, "mark": {"type": "rule", "color": "#8c8c8c", "strokeWidth": 2}, "encoding": {"y": {"datum": 1, "axis": null}}},
            {"data": {"name": "barsB"}, "transform": [{"filter": "datum.v >= 1"}], "mark": {"type": "text", "baseline": "bottom", "dy": -3},
             "encoding": {"x": {"field": "g", "type": "nominal", "axis": null}, "y": {"field": "v", "type": "quantitative", "axis": null}, "text": {"field": "n", "type": "nominal"}}},
            {"data": {"values": [{}]}, "mark": {"type": "text", "text": "Both GR", "baseline": "middle"},
             "encoding": {"x": {"datum": "Mouse", "axis": null}, "y": {"datum": 0.06, "axis": null}}},
            {"data": {"values": [{}]}, "mark": {"type": "text", "text": "B", "baseline": "middle", "fontSize": 17, "dx": -113},
             "encoding": {"x": {"datum": "Both species", "axis": null}, "y": {"datum": 4.61, "axis": null}}}
          ]
        },
        {
          "vconcat": [
            {
              "width": 121, "height": 265,
              "resolve": {"axis": {"x": "independent", "y": "independent"}},
              "layer": [
                {"data": {"name": "barsD"}, "mark": {"type": "bar"},
                 "encoding": {
                   "x": {"field": "g", "type": "nominal", "scale": {"domain": ["Both species", "Mouse", "Human"], "paddingInner": 0, "paddingOuter": 0.5625, "align": 0.667}, "axis": null},
                   "y": {"field": "v", "type": "quantitative", "scale": {"domain": [0, 4], "nice": false},
                         "axis": {"values": [0, 1, 2, 3, 4], "title": "Fold Enrichment / Depletion", "titleFontSize": 14, "titleFontWeight": "normal", "titleColor": "#231f20", "titlePadding": 4, "titleY": 105, "labelFontSize": 14, "labelColor": "#231f20", "labelPadding": 5, "labelFlush": false, "ticks": false, "domainColor": "#8c8c8c", "domainWidth": 2, "grid": false}},
                   "y2": {"datum": 1},
                   "color": {"field": "g", "type": "nominal", "scale": {"domain": ["Both species", "Mouse", "Human"], "range": ["#76c6a0", "#1d9ad6", "#f7941d"]}, "legend": null}
                 }},
                {"data": {"values": [{}]}, "mark": {"type": "rule", "color": "#8c8c8c", "strokeWidth": 2}, "encoding": {"y": {"datum": 1, "axis": null}}},
                {"data": {"name": "barsD"}, "transform": [{"filter": "datum.v >= 1"}], "mark": {"type": "text", "baseline": "bottom", "dy": -3},
                 "encoding": {"x": {"field": "g", "type": "nominal", "axis": null}, "y": {"field": "v", "type": "quantitative", "axis": null}, "text": {"field": "n", "type": "nominal"}}},
                {"data": {"name": "barsD"}, "transform": [{"filter": "datum.v < 1"}], "mark": {"type": "text", "baseline": "top", "dy": 3},
                 "encoding": {"x": {"field": "g", "type": "nominal", "axis": null}, "y": {"field": "v", "type": "quantitative", "axis": null}, "text": {"field": "n", "type": "nominal"}}},
                {"data": {"name": "brD"}, "mark": {"type": "line", "color": "#231f20", "strokeWidth": 2},
                 "encoding": {"x": {"field": "g", "type": "nominal", "bandPosition": 0.65, "axis": null}, "y": {"field": "v", "type": "quantitative", "axis": null}, "order": {"field": "o", "type": "quantitative"}}},
                {"data": {"values": [{}]}, "mark": {"type": "text", "text": "p=0.0011", "baseline": "middle", "dx": -10},
                 "encoding": {"x": {"datum": "Human", "axis": null}, "y": {"datum": 2.55, "axis": null}}},
                {"data": {"values": [{}]}, "mark": {"type": "text", "text": "Mouse GR", "baseline": "middle", "dx": 7},
                 "encoding": {"x": {"datum": "Mouse", "axis": null}, "y": {"datum": 0.03, "axis": null}}},
                {"data": {"values": [{}]}, "mark": {"type": "text", "text": "D", "baseline": "middle", "fontSize": 17, "dx": -113},
                 "encoding": {"x": {"datum": "Both species", "axis": null}, "y": {"datum": 4.05, "axis": null}}}
              ]
            },
            {
              "width": 121, "height": 264,
              "resolve": {"axis": {"x": "independent", "y": "independent"}},
              "layer": [
                {"data": {"name": "barsF"}, "mark": {"type": "bar"},
                 "encoding": {
                   "x": {"field": "g", "type": "nominal", "scale": {"domain": ["Both species", "Mouse", "Human"], "paddingInner": 0, "paddingOuter": 0.5625, "align": 0.667}, "axis": null},
                   "y": {"field": "v", "type": "quantitative", "scale": {"domain": [0, 4], "nice": false},
                         "axis": {"values": [0, 1, 2, 3, 4], "title": "Fold Enrichment / Depletion", "titleFontSize": 14, "titleFontWeight": "normal", "titleColor": "#231f20", "titlePadding": 4, "titleY": 104, "labelFontSize": 14, "labelColor": "#231f20", "labelPadding": 5, "labelFlush": false, "ticks": false, "domainColor": "#8c8c8c", "domainWidth": 2, "grid": false}},
                   "y2": {"datum": 1},
                   "color": {"field": "g", "type": "nominal", "scale": {"domain": ["Both species", "Mouse", "Human"], "range": ["#76c6a0", "#1d9ad6", "#f7941d"]}, "legend": null}
                 }},
                {"data": {"values": [{}]}, "mark": {"type": "rule", "color": "#8c8c8c", "strokeWidth": 2}, "encoding": {"y": {"datum": 1, "axis": null}}},
                {"data": {"name": "barsF"}, "transform": [{"filter": "datum.v >= 1"}], "mark": {"type": "text", "baseline": "bottom", "dy": -3},
                 "encoding": {"x": {"field": "g", "type": "nominal", "axis": null}, "y": {"field": "v", "type": "quantitative", "axis": null}, "text": {"field": "n", "type": "nominal"}}},
                {"data": {"name": "barsF"}, "transform": [{"filter": "datum.v < 1"}], "mark": {"type": "text", "baseline": "top", "dy": 3},
                 "encoding": {"x": {"field": "g", "type": "nominal", "axis": null}, "y": {"field": "v", "type": "quantitative", "axis": null}, "text": {"field": "n", "type": "nominal"}}},
                {"data": {"name": "brF"}, "mark": {"type": "line", "color": "#231f20", "strokeWidth": 2},
                 "encoding": {"x": {"field": "g", "type": "nominal", "bandPosition": 0.65, "axis": null}, "y": {"field": "v", "type": "quantitative", "axis": null}, "order": {"field": "o", "type": "quantitative"}}},
                {"data": {"values": [{}]}, "mark": {"type": "text", "text": "p=0.039", "baseline": "middle", "dx": -10},
                 "encoding": {"x": {"datum": "Human", "axis": null}, "y": {"datum": 2.39, "axis": null}}},
                {"data": {"values": [{}]}, "mark": {"type": "text", "text": "Human GR", "baseline": "middle", "dx": 4},
                 "encoding": {"x": {"datum": "Mouse", "axis": null}, "y": {"datum": -0.08, "axis": null}}},
                {"data": {"values": [{}]}, "mark": {"type": "text", "text": "F", "baseline": "middle", "fontSize": 17, "dx": -113},
                 "encoding": {"x": {"datum": "Both species", "axis": null}, "y": {"datum": 4.14, "axis": null}}}
              ]
            }
          ],
          "spacing": 60,
          "bounds": "flush"
        }
      ],
      "spacing": 42,
      "bounds": "flush"
    }
  ]
}
